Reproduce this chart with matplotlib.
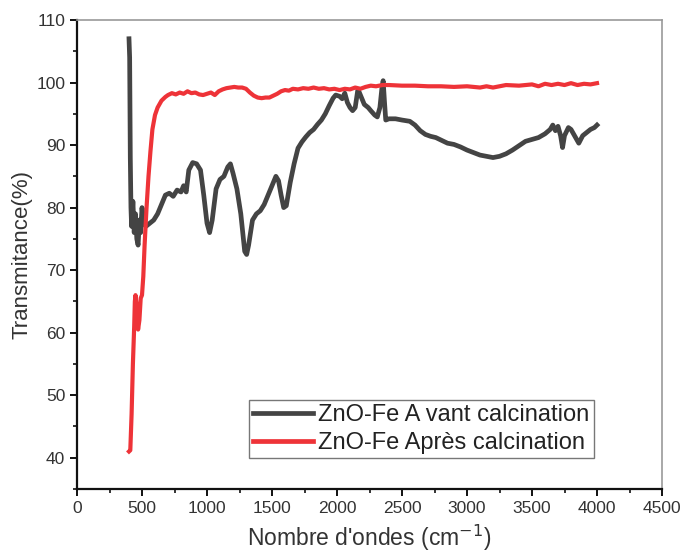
import numpy as np
import matplotlib
matplotlib.use("Agg")
import matplotlib.pyplot as plt
from matplotlib.ticker import MultipleLocator

# FTIR spectra
wn_avant = [400, 405, 410, 415, 420, 430, 440, 450, 460, 470, 480, 490, 500, 510, 530,
            560, 590, 620, 650, 680, 710, 740, 770, 800, 820, 840, 860, 890, 920, 950,
            975, 1000, 1020, 1040, 1070, 1100, 1130, 1160, 1180, 1200, 1230, 1260, 1290,
            1305, 1320, 1350, 1380, 1410, 1440, 1470, 1500, 1530, 1550, 1570, 1590, 1610,
            1640, 1670, 1700, 1730, 1760, 1790, 1820, 1850, 1880, 1910, 1940, 1970, 1990,
            2020, 2040, 2060, 2080, 2100, 2120, 2140, 2160, 2170, 2190, 2210, 2240, 2260,
            2290, 2310, 2330, 2345, 2355, 2365, 2375, 2400, 2450, 2500, 2560, 2600, 2640,
            2680, 2720, 2760, 2800, 2850, 2900, 2950, 3000, 3050, 3100, 3150, 3200, 3250,
            3300, 3350, 3400, 3450, 3500, 3550, 3600, 3640, 3660, 3680, 3700, 3720, 3735,
            3750, 3780, 3800, 3830, 3860, 3890, 3920, 3950, 3980, 4000]
t_avant = [107, 104, 88, 80, 77, 81, 76, 79, 75, 74, 78, 76, 80, 78, 77,
           77.5, 78, 79, 80.5, 82, 82.3, 81.8, 82.8, 82.5, 83.5, 82.5, 86, 87.2, 87, 86,
           82, 77.5, 76, 78, 83, 84.5, 85, 86.5, 87, 85.5, 83, 79, 73,
           72.5, 74, 78, 79, 79.5, 80.5, 82, 83.5, 85, 84.3, 82, 80, 80.3,
           84, 87, 89.5, 90.5, 91.3, 92, 92.5, 93.3, 94, 95, 96.3, 97.5, 98,
           97.8, 97.4, 98.3, 96.8, 96, 95.5, 96, 98.8, 98.5, 97.5, 96.5, 96, 95.5,
           94.8, 94.5, 96, 99, 100.3, 97, 94, 94.2, 94.2, 94, 93.8, 93.2, 92.3,
           91.7, 91.4, 91.2, 90.8, 90.3, 90.1, 89.7, 89.2, 88.8, 88.4, 88.2, 88.0, 88.2,
           88.6, 89.2, 89.9, 90.6, 90.9, 91.2, 91.8, 92.5, 93.2, 92.3, 93.0, 91.5, 89.6,
           91.5, 92.8, 92.5, 91.4, 90.3, 91.5, 92.0, 92.5, 92.8, 93.2]

wn_apres = [400, 410, 420, 430, 440, 445, 450, 460, 470, 480, 490, 500, 510, 520, 535,
            550, 565, 580, 600, 620, 650, 680, 700, 730, 760, 790, 820, 850, 880, 910,
            940, 970, 1000, 1030, 1060, 1090, 1120, 1150, 1180, 1210, 1240, 1270, 1300,
            1330, 1360, 1390, 1420, 1450, 1480, 1510, 1540, 1570, 1600, 1630, 1660, 1700,
            1740, 1780, 1820, 1860, 1900, 1940, 1980, 2020, 2060, 2100, 2140, 2180, 2220,
            2260, 2300, 2350, 2400, 2500, 2600, 2700, 2800, 2900, 3000, 3100, 3150, 3200,
            3300, 3400, 3500, 3550, 3600, 3650, 3700, 3750, 3800, 3850, 3900, 3950, 4000]
t_apres = [41, 41.2, 47, 55, 61, 65, 66, 64, 60.5, 62, 65.5, 66, 69, 74, 80,
           85, 89, 92.5, 94.8, 96, 97.1, 97.7, 98, 98.3, 98.1, 98.4, 98.2, 98.6, 98.3, 98.4,
           98.1, 98.0, 98.2, 98.4, 98.0, 98.6, 98.9, 99.1, 99.2, 99.3, 99.2, 99.2, 99.0,
           98.4, 97.9, 97.6, 97.5, 97.6, 97.6, 97.9, 98.2, 98.6, 98.8, 98.7, 99.0, 98.9,
           99.1, 99.0, 99.2, 99.0, 99.1, 98.9, 99.0, 98.8, 99.0, 98.9, 99.2, 99.0, 99.3,
           99.5, 99.4, 99.6, 99.6, 99.5, 99.5, 99.4, 99.4, 99.3, 99.4, 99.2, 99.4, 99.2,
           99.6, 99.5, 99.7, 99.4, 99.8, 99.6, 99.8, 99.6, 99.9, 99.6, 99.8, 99.7, 99.9]

label_avant = "ZnO-Fe A vant calcination"
label_apres = "ZnO-Fe Après calcination"

plt.rcParams['font.family'] = ['Liberation Sans', 'DejaVu Sans']
txt = '#333333'

fig = plt.figure(figsize=(6.84, 5.52), dpi=100)
ax = fig.add_axes([77/684, 63/552, 585/684, 469/552])

ax.plot(wn_avant, t_avant, color='#444444', lw=3.4, label=label_avant, solid_joinstyle='round')
ax.plot(wn_apres, t_apres, color='#ee3338', lw=3.0, label=label_apres, solid_joinstyle='round')

ax.set_xlim(0, 4500)
ax.set_ylim(35, 110)
ax.xaxis.set_major_locator(MultipleLocator(500))
ax.xaxis.set_minor_locator(MultipleLocator(250))
ax.yaxis.set_major_locator(MultipleLocator(10))
ax.yaxis.set_minor_locator(MultipleLocator(5))
ax.set_yticks(np.arange(40, 111, 10))

for side in ['left', 'bottom']:
    ax.spines[side].set_linewidth(1.6)
    ax.spines[side].set_color('#111111')
for side in ['top', 'right']:
    ax.spines[side].set_linewidth(1.2)
    ax.spines[side].set_color('#999999')

ax.tick_params(which='major', direction='out', length=5, width=1.4, color='#111111',
               labelsize=12.5, labelcolor=txt, top=False, right=False)
ax.tick_params(which='minor', direction='out', length=3, width=1.2, color='#111111',
               top=False, right=False)

ax.set_xlabel("Nombre d'ondes (cm$^{-1}$)", fontsize=16.5, color=txt, labelpad=5)
ax.set_ylabel("Transmitance(%)", fontsize=16, color=txt, labelpad=3)

leg = ax.legend(loc='lower left', bbox_to_anchor=(0.294, 0.066), fontsize=17,
                frameon=True, fancybox=False, edgecolor='#777777', framealpha=1,
                handlelength=2.55, handletextpad=0.2, borderpad=0.18,
                borderaxespad=0, labelspacing=0.25)
for t in leg.get_texts():
    t.set_color('#222222')
for h in leg.get_lines():
    h.set_linewidth(3.4)

fig.savefig('out.png', dpi=100)
